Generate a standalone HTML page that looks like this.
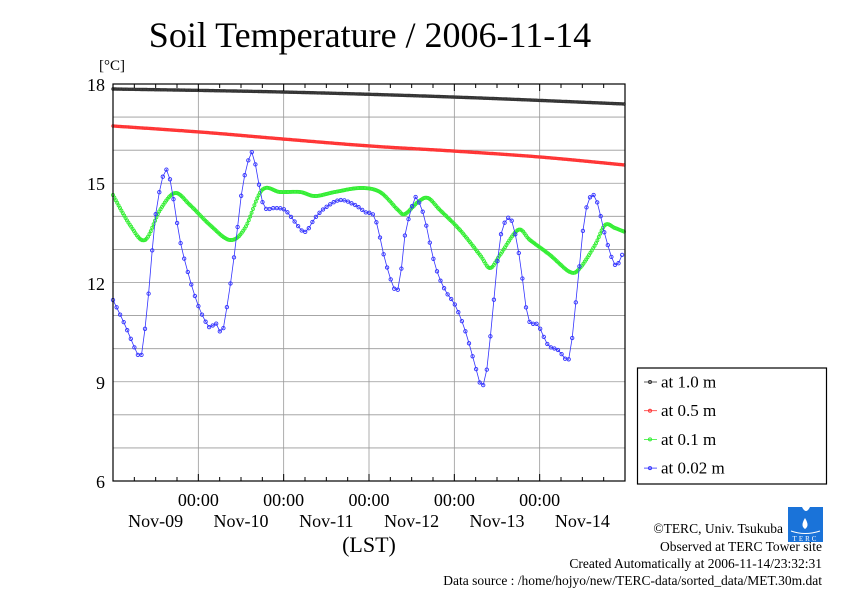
<!DOCTYPE html>
<html><head><meta charset="utf-8"><style>
body{margin:0;background:#fff;width:842px;height:595px;overflow:hidden}
svg{display:block}
text{font-family:"Liberation Serif",serif;fill:#000}
</style></head><body>
<svg id="s" width="842" height="595" xmlns="http://www.w3.org/2000/svg">
<text x="370" y="47" font-size="36" text-anchor="middle">Soil Temperature / 2006-11-14</text>
<text x="99" y="70" font-size="15">[°C]</text>
<g id="grid" stroke="#999" stroke-width="0.8"></g>
<g id="data"></g>
<rect x="113" y="84" width="512" height="397" fill="none" stroke="#000" stroke-width="1.2"/>
<g id="ticks" stroke="#000" stroke-width="1"></g>
<g font-size="18" text-anchor="end">
<text x="105" y="91">18</text><text x="105" y="190">15</text><text x="105" y="290">12</text><text x="105" y="389">9</text><text x="105" y="488">6</text>
</g>
<g font-size="18" text-anchor="middle" id="xl"></g>
<text x="369" y="552" font-size="22" text-anchor="middle">(LST)</text>
<rect x="637.5" y="368" width="189" height="116" fill="#fff" stroke="#000" stroke-width="1.2"/>
<g id="leg" font-size="17"></g>
<g font-size="13.5" text-anchor="end">
<text x="783" y="533">©TERC, Univ. Tsukuba</text>
<text x="822" y="551">Observed at TERC Tower site</text>
<text x="822" y="568">Created Automatically at 2006-11-14/23:32:31</text>
<text x="822" y="585">Data source : /home/hojyo/new/TERC-data/sorted_data/MET.30m.dat</text>
</g>
<g>
<path d="M788 507 H802 Q806 515 810 507 H823 V542 H788 Z" fill="#1a73d9"/>
<path d="M805 518 Q800 526 805 529 Q810 526 805 518Z" fill="#fff"/>
<path d="M791 531 Q805 536 820 531" stroke="#fff" fill="none" stroke-width="1"/>
<text x="805.5" y="541" font-size="7" text-anchor="middle" style="fill:#fff;letter-spacing:2px">TERC</text>
</g>
</svg>
<script>
var ns="http://www.w3.org/2000/svg",s=document.getElementById('s');
function el(p,t,a){var e=document.createElementNS(ns,t);for(var k in a)e.setAttribute(k,a[k]);p.appendChild(e);return e}
var g=document.getElementById('grid'),tk=document.getElementById('ticks'),xl=document.getElementById('xl');
for(var i=1;i<12;i++){var y=84+i*397/12;el(g,'line',{x1:113,x2:625,y1:y,y2:y});}
var dw=512/6;
for(var d=1;d<6;d++){var x=113+d*dw;el(g,'line',{x1:x,x2:x,y1:84,y2:481});}
for(var q=1;q<24;q++){var x=113+q*dw/4,l=(q%4==0)?7:4;el(tk,'line',{x1:x,x2:x,y1:481,y2:481-l});el(tk,'line',{x1:x,x2:x,y1:84,y2:84+l});}
for(var d=0;d<6;d++){var x=113+d*dw;
 if(d>0){var t=el(xl,'text',{x:x,y:506});t.textContent='00:00';}
 var t2=el(xl,'text',{x:x+dw/2,y:527});t2.textContent='Nov-'+(9+d<10?'0':'')+(9+d);}
function cr(pts,n){var out=[];for(var i=0;i<pts.length-1;i++){var p0=pts[Math.max(0,i-1)],p1=pts[i],p2=pts[i+1],p3=pts[Math.min(pts.length-1,i+2)];
 for(var j=0;j<n;j++){var t=j/n,t2=t*t,t3=t2*t;
 var f=function(a,b,c,d){return 0.5*(2*b+(-a+c)*t+(2*a-5*b+4*c-d)*t2+(-a+3*b-3*c+d)*t3)};
 out.push([f(p0[0],p1[0],p2[0],p3[0]),f(p0[1],p1[1],p2[1],p3[1])]);}}
 out.push(pts[pts.length-1]);return out}
function resample(pts,step){var c=cr(pts,20),o=[],k=0;for(var x=113;x<=625;x+=step){while(k<c.length-2&&c[k+1][0]<x)k++;var a=c[k],b=c[k+1],t=(b[0]-a[0])?(x-a[0])/(b[0]-a[0]):0;t=Math.max(0,Math.min(1,t));o.push([x,a[1]+(b[1]-a[1])*t]);}return o}
var D=document.getElementById('data');
function series(pts,step,col,r,sw){var p=resample(pts,step);
 el(D,'polyline',{points:p.map(function(q){return q[0].toFixed(1)+','+q[1].toFixed(1)}).join(' '),fill:'none',stroke:col,'stroke-width':0.8});
 var gg=el(D,'g',{fill:'none',stroke:col,'stroke-width':sw});p.forEach(function(q){el(gg,'circle',{cx:q[0].toFixed(1),cy:q[1].toFixed(1),r:r})});}
series([[113,89],[283,92],[453,97],[625,104]],1.4,'#333',1.3,0.8);
series([[113,126],[200,132],[283,139],[370,146],[453,151],[540,157],[625,165]],1.4,'#f33',1.3,0.8);
series([[113,195],[130,225],[145,240],[160,210],[175,193],[190,205],[210,225],[230,240],[245,228],[262,190],[280,192],[300,192],[315,196],[335,192],[360,188],[380,192],[398,210],[405,214],[418,202],[428,198],[440,210],[460,230],[480,255],[490,268],[500,255],[518,230],[530,240],[550,255],[570,272],[580,268],[595,245],[605,225],[615,228],[625,232]],1.4,'#3e3',1.5,0.9);
series([[113,300],[125,325],[138,355],[142,352],[148,300],[155,220],[162,180],[167,170],[172,190],[180,240],[190,280],[200,310],[210,328],[215,322],[222,332],[228,300],[235,250],[242,190],[250,155],[254,158],[260,190],[265,208],[275,208],[285,210],[295,222],[305,232],[315,218],[325,208],[340,200],[355,205],[365,212],[375,218],[385,260],[395,290],[400,280],[405,235],[415,198],[420,205],[425,220],[435,265],[445,290],[455,305],[465,330],[475,365],[481,385],[486,375],[492,320],[500,240],[508,218],[513,225],[520,260],[528,318],[538,325],[548,345],[558,350],[568,360],[572,340],[578,280],[585,215],[592,195],[598,205],[605,235],[615,265],[622,255],[625,248]],3.56,'#33f',1.7,0.9);
var L=document.getElementById('leg'),cols=['#333','#f33','#3e3','#33f'],labs=['at 1.0 m','at 0.5 m','at 0.1 m','at 0.02 m'];
for(var i=0;i<4;i++){var y=382+i*28.7;el(L,'line',{x1:644,x2:657,y1:y,y2:y,stroke:cols[i],'stroke-width':0.8});el(L,'circle',{cx:650,cy:y,r:1.5,fill:'none',stroke:cols[i]});var t=el(L,'text',{x:661,y:y+5.5});t.textContent=labs[i];}
</script>
</body></html>
